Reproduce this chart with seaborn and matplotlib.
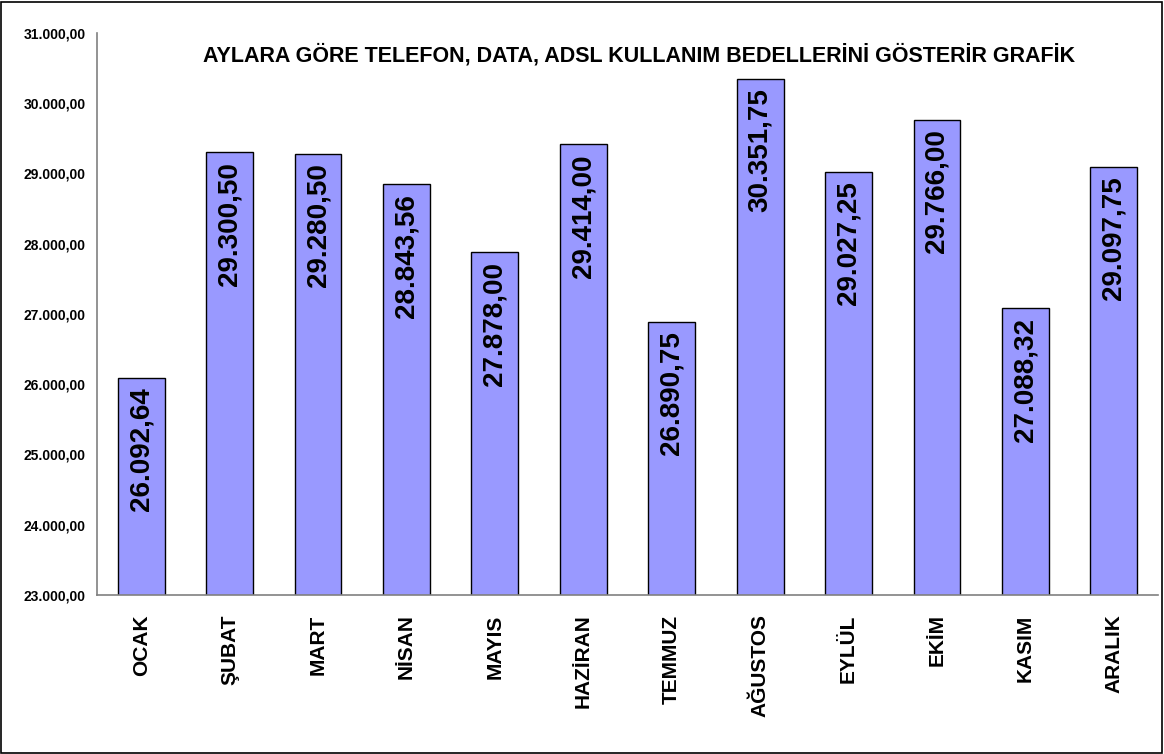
import matplotlib
matplotlib.use("Agg")
import matplotlib.pyplot as plt
import seaborn as sns
import pandas as pd
import numpy as np
from matplotlib.patches import Rectangle

months = ["OCAK", "ŞUBAT", "MART", "NİSAN", "MAYIS", "HAZİRAN",
          "TEMMUZ", "AĞUSTOS", "EYLÜL", "EKİM", "KASIM", "ARALIK"]
values = [26092.64, 29300.50, 29280.50, 28843.56, 27878.00, 29414.00,
          26890.75, 30351.75, 29027.25, 29766.00, 27088.32, 29097.75]
title = "AYLARA GÖRE TELEFON, DATA, ADSL KULLANIM BEDELLERİNİ GÖSTERİR GRAFİK"


def tr_fmt(v):
    s = f"{v:,.2f}"
    return s.replace(",", "X").replace(".", ",").replace("X", ".")


sns.set_style("white")
plt.rcParams["font.family"] = ["Liberation Sans", "DejaVu Sans"]
plt.rcParams["font.weight"] = "bold"
plt.rcParams["text.color"] = "black"
plt.rcParams["xtick.labelcolor"] = "black"
plt.rcParams["ytick.labelcolor"] = "black"

df = pd.DataFrame({"ay": months, "tutar": values})

fig = plt.figure(figsize=(11.64, 7.54), dpi=100)
ax = fig.add_axes([97 / 1164, 1 - 595 / 754, (1158 - 97) / 1164, (595 - 33) / 754])
sns.barplot(data=df, x="ay", y="tutar", color="#9999FF", saturation=1,
            edgecolor="black", linewidth=1, width=0.53, ax=ax)

ax.set_ylim(23000, 31000)
ax.set_xlim(-0.5, len(months) - 0.5)
ax.set_yticks(np.arange(23000, 31001, 1000))
ax.set_yticklabels([tr_fmt(v) for v in np.arange(23000, 31001, 1000)],
                   fontsize=10, fontweight="bold", color="black")
ax.set_xticks(range(len(months)))
ax.set_xticklabels(months, rotation=90, fontsize=15, fontweight="bold", color="black")
ax.set_xticks(np.arange(-0.5, len(months), 1), minor=True)
ax.tick_params(axis="x", which="major", length=0, pad=14)
ax.tick_params(axis="x", which="minor", length=7, width=1, color="#808080", direction="out")
ax.tick_params(axis="y", length=5, width=1, color="#808080", direction="out", pad=3)
ax.set_xlabel("")
ax.set_ylabel("")

for sp in ["top", "right"]:
    ax.spines[sp].set_visible(False)
for sp in ["left", "bottom"]:
    ax.spines[sp].set_color("#808080")
    ax.spines[sp].set_linewidth(1.2)

for i, v in enumerate(values):
    ax.annotate(tr_fmt(v), xy=(i, v), xytext=(0, -7), textcoords="offset points",
                rotation=90, ha="center", va="top", fontsize=20,
                fontweight="bold", color="black")

fig.text(639 / 1164, 1 - 55 / 754, title, ha="center", va="center",
         fontsize=15.5, fontweight="bold", color="black")

fig.patches.append(Rectangle((0.001, 0.001), 0.997, 0.997, transform=fig.transFigure,
                             fill=False, edgecolor="black", linewidth=1.2))

fig.savefig("out.png", dpi=100)
